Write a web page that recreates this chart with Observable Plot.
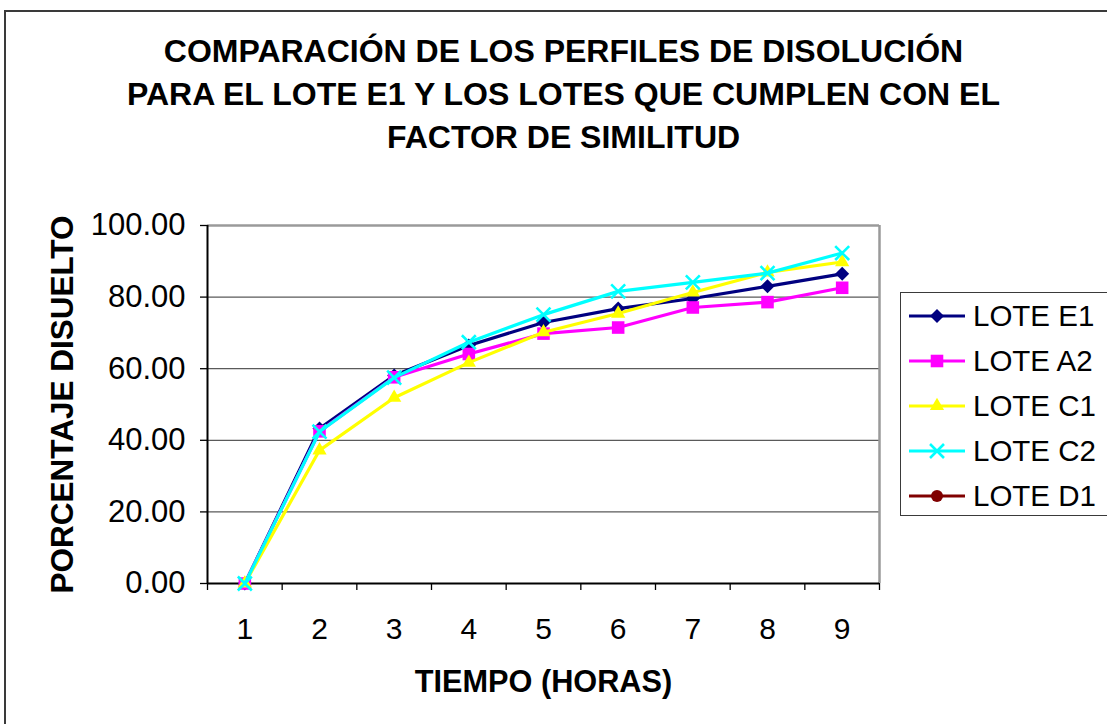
<!DOCTYPE html>
<html>
<head>
<meta charset="utf-8">
<script src="https://cdn.jsdelivr.net/npm/d3@7"></script>
<script src="https://cdn.jsdelivr.net/npm/@observablehq/plot@0.6"></script>
<style>
  html, body { margin: 0; padding: 0; background: #fff; width: 1107px; height: 724px; overflow: hidden; }
  body { position: relative; font-family: "Liberation Sans", Arial, sans-serif; }
  #frame { position: absolute; left: 4px; top: 10px; width: 1200px; height: 800px; border: 2px solid #3a3a3a; box-sizing: border-box; }
  #title { position: absolute; left: 10px; top: 30px; width: 1107px; text-align: center; font-weight: bold; font-size: 32px; line-height: 43px; color: #000; }
  #chart { position: absolute; left: 0; top: 0; }
  #legend { position: absolute; left: 900px; top: 292px; width: 300px; height: 224px; border: 1.5px solid #3a3a3a; box-sizing: border-box; background: #fff; }
  .item { position: absolute; left: 0; height: 40px; display: flex; align-items: center; }
  .item span { font-size: 29.5px; color: #000; margin-left: 6px; }
</style>
</head>
<body>
<div id="frame"></div>
<div id="title">COMPARACIÓN DE LOS PERFILES DE DISOLUCIÓN<br>PARA EL LOTE E1 Y LOS LOTES QUE CUMPLEN CON EL<br>FACTOR DE SIMILITUD</div>
<div id="chart"></div>
<div id="legend"></div>
<script>
// Dissolution time points (hours)
const hours = [1, 2, 3, 4, 5, 6, 7, 8, 9];

// Percentage dissolved per batch
const loteE1 = [0, 43.3, 58.1, 66.5, 72.9, 76.8, 79.6, 83.0, 86.5];
const loteA2 = [0, 42.5, 57.6, 64.1, 69.8, 71.5, 77.1, 78.6, 82.6];
const loteC1 = [0, 37.2, 51.9, 61.7, 70.2, 75.4, 81.3, 86.9, 89.8];
const loteC2 = [0, 42.4, 57.5, 67.4, 75.1, 81.6, 84.1, 86.7, 92.3];
const loteD1 = [];

const seriesNames = ["LOTE E1", "LOTE A2", "LOTE C1", "LOTE C2", "LOTE D1"];
const seriesValues = [loteE1, loteA2, loteC1, loteC2, loteD1];
const seriesColors = ["#000080", "#FF00FF", "#FFFF00", "#00FFFF", "#800000"];
const seriesSymbols = ["diamond2", "square2", "triangle2", "times", "circle"];
const seriesRadius = [6.3, 8.0, 6.8, 6.4, 6];

const yTicks = [0, 20, 40, 60, 80, 100];
const yGrid = [20, 40, 60, 80];
const xBoundaries = [0.5, 1.5, 2.5, 3.5, 4.5, 5.5, 6.5, 7.5, 8.5, 9.5];

const xTitle = "TIEMPO (HORAS)";
const yTitle = "PORCENTAJE DISUELTO";

const font = "'Liberation Sans', Arial, sans-serif";

// One mark pair (line + symbols) per batch, drawn in order
const seriesMarks = seriesNames.flatMap((name, i) => {
  const rows = seriesValues[i].map((v, j) => ({hour: hours[j], value: v}));
  const isStroke = seriesSymbols[i] === "times";
  return [
    Plot.line(rows, {x: "hour", y: "value", stroke: seriesColors[i], strokeWidth: 3.2}),
    Plot.dot(rows, {
      x: "hour", y: "value", symbol: seriesSymbols[i], r: seriesRadius[i],
      fill: isStroke ? "none" : seriesColors[i],
      stroke: isStroke ? seriesColors[i] : "none",
      strokeWidth: isStroke ? 2.6 : 0
    })
  ];
});

const chart = Plot.plot({
  width: 1107,
  height: 724,
  marginLeft: 207,
  marginRight: 228,
  marginTop: 225,
  marginBottom: 141,
  style: {fontFamily: font, background: "transparent", overflow: "visible", color: "#000"},
  x: {type: "linear", domain: [0.5, 9.5]},
  y: {domain: [0, 100]},
  marks: [
    Plot.ruleY(yGrid, {stroke: "#5a5a5a", strokeWidth: 1.3}),
    Plot.ruleY([100], {stroke: "#9a9a9a", strokeWidth: 2.5}),
    Plot.ruleX([9.5], {stroke: "#9a9a9a", strokeWidth: 2.5}),
    Plot.axisY({ticks: yTicks, tickSize: 7, tickPadding: 15, tickFormat: d3.format(".2f"),
      fontSize: 31, stroke: "#000", strokeWidth: 1.3, label: null}),
    Plot.axisX({ticks: xBoundaries, tickSize: 7, tickFormat: () => "", stroke: "#000", strokeWidth: 1.3, label: null}),
    Plot.axisX({ticks: hours, tickSize: 0, tickPadding: 34, tickFormat: d3.format("d"), fontSize: 30, label: null}),
    Plot.ruleX([0.5], {stroke: "#000", strokeWidth: 2}),
    Plot.ruleY([0], {stroke: "#000", strokeWidth: 2}),
    ...seriesMarks,
    Plot.text([xTitle], {text: d => d, frameAnchor: "bottom", dy: 99, lineAnchor: "middle",
      fontSize: 30.7, fontWeight: "bold", fill: "#000"}),
    Plot.text([yTitle], {text: d => d, frameAnchor: "left", dx: -145, rotate: -90,
      textAnchor: "middle", lineAnchor: "middle",
      fontSize: 31.5, fontWeight: "bold", fill: "#000"})
  ]
});
document.getElementById("chart").appendChild(chart);

// Legend
const legend = d3.select("#legend");
const symMap = {diamond2: d3.symbolDiamond2, square2: d3.symbolSquare2, triangle2: d3.symbolTriangle2,
  times: d3.symbolTimes, circle: d3.symbolCircle};
seriesNames.forEach((name, i) => {
  const item = legend.append("div").attr("class", "item").style("top", `${3 + i * 45}px`);
  const svg = item.append("svg").attr("width", 66).attr("height", 40);
  svg.append("line").attr("x1", 8).attr("x2", 64).attr("y1", 20).attr("y2", 20)
    .attr("stroke", seriesColors[i]).attr("stroke-width", 3);
  const r = seriesRadius[i];
  const path = d3.symbol(symMap[seriesSymbols[i]], Math.PI * r * r)();
  const isStroke = seriesSymbols[i] === "times";
  svg.append("path").attr("d", path).attr("transform", "translate(36,20)")
    .attr("fill", isStroke ? "none" : seriesColors[i])
    .attr("stroke", isStroke ? seriesColors[i] : "none")
    .attr("stroke-width", isStroke ? 2.6 : 0);
  item.append("span").text(name);
});
</script>
</body>
</html>
